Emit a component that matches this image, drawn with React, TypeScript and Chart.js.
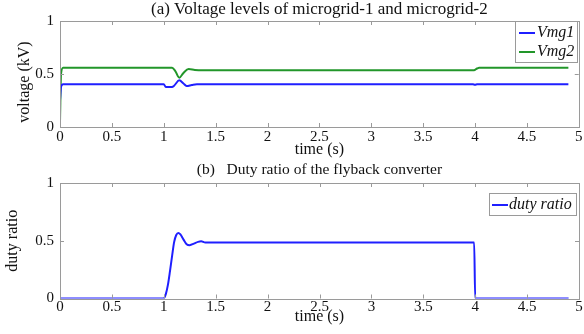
import React, { useEffect, useRef } from 'react';
import { Chart, registerables } from 'chart.js';

Chart.register(...registerables);

// ---------- data ----------
const timeTickValues = [0, 0.5, 1, 1.5, 2, 2.5, 3, 3.5, 4, 4.5, 5];
const unitTickValues = [0, 0.5, 1];

const vmg1Time = [0, 0.01, 0.03, 1.0, 1.02, 1.08, 1.1, 1.15, 1.19, 1.22, 1.27, 1.32, 3.98, 4.0, 4.02, 4.9];
const vmg1Values = [0.25, 0.38, 0.403, 0.403, 0.378, 0.378, 0.39, 0.44, 0.41, 0.387, 0.396, 0.403, 0.403, 0.398, 0.403, 0.403];

const vmg2Time = [0, 0.01, 0.03, 1.08, 1.11, 1.15, 1.19, 1.24, 1.3, 1.38, 3.99, 4.02, 4.04, 4.9];
const vmg2Values = [0.05, 0.5, 0.559, 0.559, 0.53, 0.465, 0.51, 0.547, 0.538, 0.535, 0.535, 0.552, 0.559, 0.559];

const dutyTime = [0, 1.0, 1.02, 1.04, 1.06, 1.08, 1.1, 1.12, 1.14, 1.16, 1.19, 1.22, 1.25, 1.29, 1.33, 1.36, 1.4, 3.99, 4.0, 4.9];
const dutyValues = [0, 0, 0.04, 0.12, 0.24, 0.37, 0.49, 0.55, 0.568, 0.555, 0.51, 0.47, 0.462, 0.475, 0.49, 0.495, 0.485, 0.485, 0, 0];

const topTitle = '(a) Voltage levels of microgrid-1 and microgrid-2';
const bottomTitle = '(b)   Duty ratio of the flyback converter';
const xAxisLabel = 'time (s)';
const topYAxisLabel = 'voltage (kV)    ';
const bottomYAxisLabel = 'duty ratio';
const vmg1Label = 'Vmg1';
const vmg2Label = 'Vmg2';
const dutyLabel = 'duty ratio';

// ---------- styles ----------
const FONT = '"Liberation Serif", "Times New Roman", serif';
const FRAME = '#9a9a9a';
const TEXT = '#111111';
const BLUE = '#1f1fff';
const GREEN = '#22962a';

const toPoints = (ts: number[], vs: number[]) => ts.map((t, i) => ({ x: t, y: vs[i] }));

type LegendSpec = {
  x: number; y: number; w: number; h: number;
  rows: { label: string; color: string; cy: number }[];
  lineX: number; lineLen: number; textX: number;
};

function makeFramePlugin(legend: LegendSpec) {
  return {
    id: 'matlabFrame',
    afterDatasetsDraw(chart: any) {
      const { ctx, chartArea } = chart;
      const { left, right, top, bottom } = chartArea;
      ctx.save();
      ctx.strokeStyle = FRAME;
      ctx.lineWidth = 1;
      ctx.strokeRect(Math.round(left) + 0.5, Math.round(top) + 0.5, Math.round(right - left), Math.round(bottom - top));
      const tl = 4;
      const xs = chart.scales.x;
      const ys = chart.scales.y;
      ctx.beginPath();
      xs.ticks.forEach((t: any) => {
        const px = Math.round(xs.getPixelForValue(t.value)) + 0.5;
        ctx.moveTo(px, bottom); ctx.lineTo(px, bottom - tl);
        ctx.moveTo(px, top); ctx.lineTo(px, top + tl);
      });
      ys.ticks.forEach((t: any) => {
        const py = Math.round(ys.getPixelForValue(t.value)) + 0.5;
        ctx.moveTo(left, py); ctx.lineTo(left + tl, py);
        ctx.moveTo(right, py); ctx.lineTo(right - tl, py);
      });
      ctx.stroke();

      // legend
      ctx.fillStyle = '#ffffff';
      ctx.fillRect(legend.x, legend.y, legend.w, legend.h);
      ctx.strokeStyle = FRAME;
      ctx.strokeRect(legend.x + 0.5, legend.y + 0.5, legend.w, legend.h);
      ctx.font = `italic 16px ${FONT}`;
      ctx.textBaseline = 'middle';
      ctx.textAlign = 'left';
      legend.rows.forEach((r) => {
        ctx.strokeStyle = r.color;
        ctx.lineWidth = 2;
        ctx.beginPath();
        ctx.moveTo(legend.lineX, r.cy);
        ctx.lineTo(legend.lineX + legend.lineLen, r.cy);
        ctx.stroke();
        ctx.fillStyle = TEXT;
        ctx.fillText(r.label, legend.textX, r.cy);
      });
      ctx.restore();
    },
  };
}

type PanelSpec = {
  datasets: any[];
  title: string;
  titleSize: number;
  titlePad: { top: number; bottom: number };
  yLabel: string;
  yLabelPad: number;
  xHeight: number;
  xTickPad: number;
  xTitlePad: number;
  legend: LegendSpec;
};

const fmt = (v: any) => String(Number(v));

function buildConfig(p: PanelSpec): any {
  const bigFont = { family: FONT, size: 16, weight: 'normal' as const, lineHeight: 1.2 };
  const titleFont = { family: FONT, size: p.titleSize, weight: 'normal' as const, lineHeight: 19.2 / p.titleSize };
  const tickFont = { family: FONT, size: 15, weight: 'normal' as const, lineHeight: 1.2 };
  return {
    type: 'line',
    data: { datasets: p.datasets },
    options: {
      animation: false,
      responsive: false,
      maintainAspectRatio: false,
      devicePixelRatio: 1,
      layout: { padding: { left: 0, right: 5, top: 0, bottom: 0 } },
      elements: { point: { radius: 0 } },
      plugins: {
        legend: { display: false },
        tooltip: { enabled: false },
        title: {
          display: true,
          text: p.title,
          fullSize: false,
          color: TEXT,
          font: titleFont,
          padding: p.titlePad,
        },
      },
      scales: {
        x: {
          type: 'linear',
          min: 0,
          max: 5,
          afterBuildTicks: (axis: any) => {
            axis.ticks = timeTickValues.map((v) => ({ value: v }));
          },
          grid: { display: false, drawTicks: false, tickLength: 0 },
          border: { display: false },
          ticks: { font: tickFont, color: TEXT, padding: p.xTickPad, maxRotation: 0, autoSkip: false, callback: fmt },
          title: { display: true, text: xAxisLabel, color: TEXT, font: bigFont, padding: { top: 0, bottom: p.xTitlePad } },
          afterFit: (axis: any) => { axis.height = p.xHeight; },
        },
        y: {
          type: 'linear',
          min: 0,
          max: 1,
          afterBuildTicks: (axis: any) => {
            axis.ticks = unitTickValues.map((v) => ({ value: v }));
          },
          grid: { display: false, drawTicks: false, tickLength: 0 },
          border: { display: false },
          ticks: { font: tickFont, color: TEXT, padding: 6, callback: fmt },
          title: { display: true, text: p.yLabel, color: TEXT, font: bigFont, padding: { top: p.yLabelPad, bottom: 0 } },
          afterFit: (axis: any) => { axis.width = 60; },
        },
      },
    },
    plugins: [makeFramePlugin(p.legend)],
  };
}

function Panel({ spec, width, height, top }: { spec: PanelSpec; width: number; height: number; top: number }) {
  const ref = useRef<HTMLCanvasElement | null>(null);
  useEffect(() => {
    if (!ref.current) return;
    const chart = new Chart(ref.current, buildConfig(spec));
    return () => chart.destroy();
  }, []);
  return (
    <canvas
      ref={ref}
      width={width}
      height={height}
      style={{ position: 'absolute', left: 0, top, width, height, display: 'block' }}
    />
  );
}

const lineDs = (label: string, ts: number[], vs: number[], color: string) => ({
  label,
  data: toPoints(ts, vs),
  borderColor: color,
  backgroundColor: color,
  borderWidth: 2,
  pointRadius: 0,
  fill: false,
  cubicInterpolationMode: 'monotone',
});

const topSpec: PanelSpec = {
  datasets: [
    lineDs(vmg1Label, vmg1Time, vmg1Values, BLUE),
    lineDs(vmg2Label, vmg2Time, vmg2Values, GREEN),
  ],
  title: topTitle,
  titleSize: 17,
  titlePad: { top: 0.4, bottom: 1.4 },
  yLabel: topYAxisLabel,
  yLabelPad: 15.4,
  xHeight: 33,
  xTickPad: 1.5,
  xTitlePad: 1,
  legend: {
    x: 515, y: 21, w: 62, h: 41,
    rows: [
      { label: vmg1Label, color: BLUE, cy: 33 },
      { label: vmg2Label, color: GREEN, cy: 52 },
    ],
    lineX: 519, lineLen: 16, textX: 537,
  },
};

const bottomSpec: PanelSpec = {
  datasets: [lineDs(dutyLabel, dutyTime, dutyValues, BLUE)],
  title: bottomTitle,
  titleSize: 15.5,
  titlePad: { top: 0.4, bottom: 3.4 },
  yLabel: bottomYAxisLabel,
  yLabelPad: 3.4,
  xHeight: 35.5,
  xTickPad: 0,
  xTitlePad: 7.4,
  legend: {
    x: 489, y: 33, w: 87, h: 22,
    rows: [{ label: dutyLabel, color: BLUE, cy: 45 }],
    lineX: 492, lineLen: 16, textX: 509,
  },
};

export default function App() {
  return (
    <div style={{ position: 'absolute', left: 0, top: 0, width: 584, height: 334, background: '#ffffff', overflow: 'hidden' }}>
      <Panel spec={topSpec} width={584} height={160} top={0} />
      <Panel spec={bottomSpec} width={584} height={174} top={160} />
    </div>
  );
}
